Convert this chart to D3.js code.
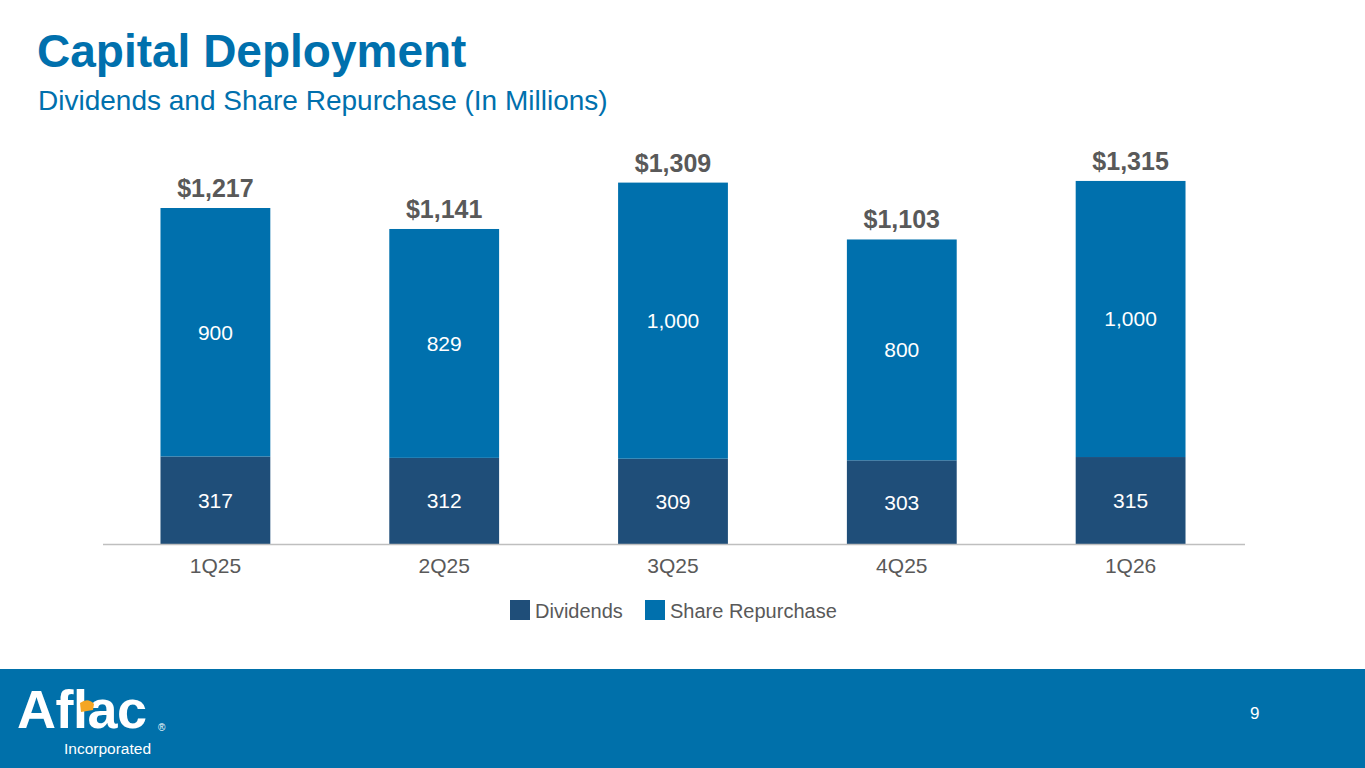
<!DOCTYPE html>
<html><head><meta charset="utf-8">
<script src="https://cdn.jsdelivr.net/npm/d3@7/dist/d3.min.js"></script>
<style>
html,body{margin:0;padding:0;background:#fff;}
svg{display:block;font-family:"Liberation Sans",Arial,sans-serif;}
</style></head>
<body>
<svg id="c" width="1365" height="768"></svg>
<script>
const categories = ["1Q25","2Q25","3Q25","4Q25","1Q26"];
const dividends = [317,312,309,303,315];
const repurchase = [900,829,1000,800,1000];
const totalLabels = ["$1,217","$1,141","$1,309","$1,103","$1,315"];
const repLabels = ["900","829","1,000","800","1,000"];
const seriesNames = ["Dividends","Share Repurchase"];
const colors = ["#1F4E79","#0070AD"];

const svg = d3.select("#c");
const W = 1365, H = 768;

// titles
svg.append("text").attr("x",37).attr("y",67).attr("fill","#0070AD")
  .attr("font-size",46).attr("font-weight","bold").text("Capital Deployment");
svg.append("text").attr("x",38).attr("y",110).attr("fill","#0070AD")
  .attr("font-size",28).text("Dividends and Share Repurchase (In Millions)");

// chart
const baseY = 544;
const x = d3.scaleBand().domain(categories).range([101,1245]).paddingInner(0.52).paddingOuter(0.26);
const y = d3.scaleLinear().domain([0,1217]).range([baseY,208]);

const data = categories.map((c,i)=>({cat:c, div:dividends[i], rep:repurchase[i], total:totalLabels[i], repL:repLabels[i]}));
const stack = d3.stack().keys(["div","rep"])(data);

const g = svg.append("g");
g.selectAll("g.s").data(stack).join("g").attr("fill",(d,i)=>colors[i])
  .selectAll("rect").data(d=>d).join("rect")
  .attr("x",d=>x(d.data.cat)).attr("width",x.bandwidth())
  .attr("y",d=>y(d[1])).attr("height",d=>y(d[0])-y(d[1]));

// axis
const ax = svg.append("g").attr("transform",`translate(0,${baseY})`)
  .call(d3.axisBottom(x).tickSize(0).tickPadding(11));
ax.select(".domain").attr("stroke","#BFBFBF").attr("stroke-width",1.5).attr("d","M103,0.5H1245");
ax.selectAll("text").attr("font-size",21).attr("fill","#595959").attr("font-family","Liberation Sans, Arial, sans-serif").attr("dy","0.85em");

// segment labels
data.forEach(d=>{
  const cx = x(d.cat)+x.bandwidth()/2;
  svg.append("text").attr("x",cx).attr("y",(y(0)+y(d.div))/2).attr("dy","0.35em")
    .attr("text-anchor","middle").attr("fill","#FFFFFF").attr("font-size",21).text(String(d.div));
  svg.append("text").attr("x",cx).attr("y",(y(d.div)+y(d.div+d.rep))/2).attr("dy","0.35em")
    .attr("text-anchor","middle").attr("fill","#FFFFFF").attr("font-size",21).text(d.repL);
  svg.append("text").attr("x",cx).attr("y",y(d.div+d.rep)-11)
    .attr("text-anchor","middle").attr("fill","#595959").attr("font-size",25).attr("font-weight","bold").text(d.total);
});

// legend
const leg = svg.append("g");
const legX = [510,645];
seriesNames.forEach((n,i)=>{
  leg.append("rect").attr("x",legX[i]).attr("y",600).attr("width",20).attr("height",20).attr("fill",colors[i]);
  leg.append("text").attr("x",legX[i]+25).attr("y",618).attr("fill","#595959").attr("font-size",20).text(n);
});

// footer
svg.append("rect").attr("x",0).attr("y",669).attr("width",W).attr("height",H-669).attr("fill","#0070AA");
svg.append("text").attr("x",1250).attr("y",719).attr("fill","#FFFFFF").attr("font-size",17).text("9");
svg.append("text").attr("x",17).attr("y",728).attr("fill","#FFFFFF").attr("font-size",54).attr("font-weight","bold")
  .attr("letter-spacing",-0.5).text("Aflac");
svg.append("text").attr("x",158).attr("y",731).attr("fill","#FFFFFF").attr("font-size",10).text("®");
svg.append("text").attr("x",64).attr("y",754).attr("fill","#FFFFFF").attr("font-size",15.5).text("Incorporated");
// duck beak accent
svg.append("path").attr("d","M80,703 q8,-6 14,1 l-1,6 l-12,2 z").attr("fill","#F5A623");
</script>
</body></html>
